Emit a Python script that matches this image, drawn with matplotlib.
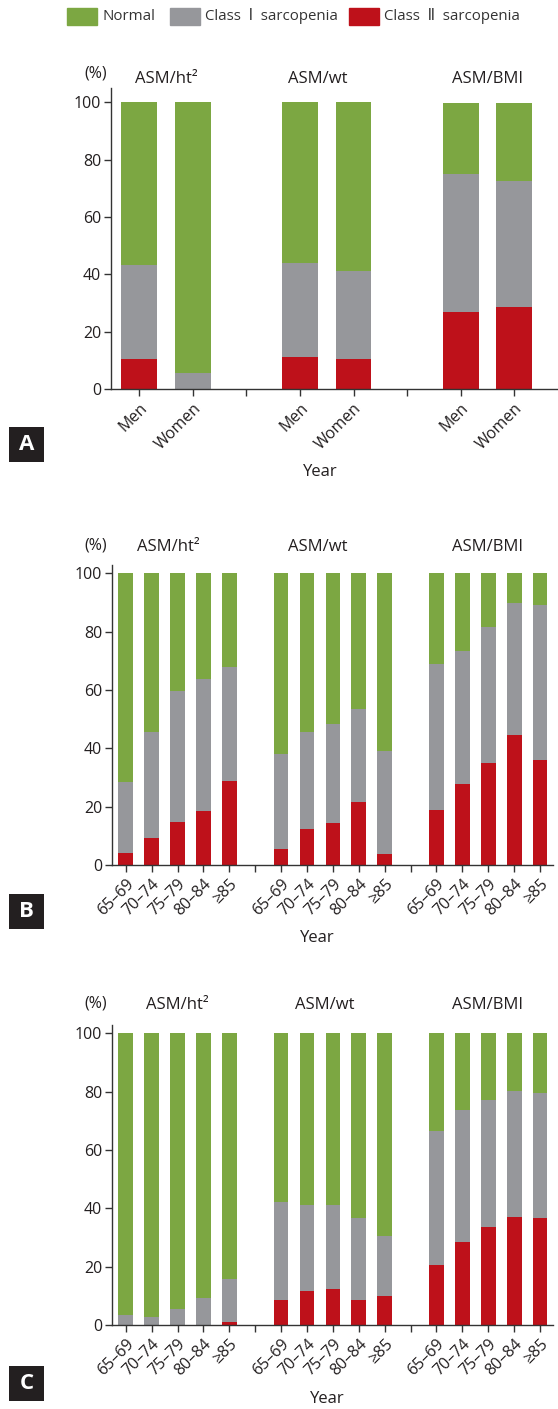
import numpy as np
import matplotlib
matplotlib.use("Agg")
import matplotlib.pyplot as plt
from matplotlib.patches import Rectangle

plt.rcParams['font.family'] = ['Open Sans', 'DejaVu Sans']

# colores
GREEN = '#7ca742'
GREY = '#96979b'
RED = '#be111a'
TXT = '#231f20'

indices = ['ASM/ht\u00b2', 'ASM/wt', 'ASM/BMI']
sexes = ['Men', 'Women']
ages = ['65\u201369', '70\u201374', '75\u201379', '80\u201384', '\u226585']

# Panel A (por sexo), orden: ht2, wt, BMI
a_class2 = [10.3, 0.0, 11.1, 10.6, 27.0, 28.6]
a_class1 = [32.9, 5.5, 32.8, 30.5, 47.9, 43.9]   # tope gris - rojo
a_total = [100, 100, 100, 100, 99.8, 99.8]

# Panel B (hombres por edad)
b_class2 = [4.2, 9.4, 14.7, 18.5, 28.8,
            5.5, 12.3, 14.4, 21.6, 3.9,
            19.0, 27.8, 35.0, 44.6, 36.0]
b_top1 = [28.6, 45.7, 59.5, 63.8, 67.9,
          38.2, 45.7, 48.3, 53.5, 39.1,
          68.9, 73.4, 81.6, 89.8, 89.1]
b_total = [100] * 15

# Panel C (mujeres por edad)
c_class2 = [0.0, 0.0, 0.0, 0.0, 1.0,
            8.6, 11.7, 12.3, 8.6, 9.9,
            20.6, 28.5, 33.6, 37.0, 36.7]
c_top1 = [3.4, 2.7, 5.5, 9.4, 15.8,
          42.3, 41.1, 41.1, 36.8, 30.5,
          66.5, 73.7, 77.1, 80.2, 79.5]
c_total = [100] * 15

W, H = 558, 1409
fig = plt.figure(figsize=(W / 100, H / 100), dpi=100)


def px_axes(x0, x1, ytop, ybot):
    return fig.add_axes([x0 / W, 1 - ybot / H, (x1 - x0) / W, (ybot - ytop) / H])


def panel(ax, labels, ngroup, red, grey_top, total, width, ymax, xr):
    pos = []
    ticks = []
    ticklabels = []
    p = 0
    for g in range(3):
        for i in range(ngroup):
            pos.append(p)
            ticks.append(p)
            ticklabels.append(labels[i])
            p += 1
        if g < 2:
            ticks.append(p)
            ticklabels.append('')
            p += 1
    pos = np.array(pos)
    red = np.array(red)
    grey_top = np.array(grey_top)
    total = np.array(total)
    ax.bar(pos, red, width, color=RED, linewidth=0)
    ax.bar(pos, grey_top - red, width, bottom=red, color=GREY, linewidth=0)
    ax.bar(pos, total - grey_top, width, bottom=grey_top, color=GREEN, linewidth=0)
    ax.set_xlim(-0.53, xr)
    ax.set_ylim(0, ymax)
    ax.set_yticks([0, 20, 40, 60, 80, 100])
    ax.set_xticks(ticks)
    ax.set_xticklabels(ticklabels, rotation=45, ha='right', va='top',
                       rotation_mode='anchor', fontsize=11.5, color=TXT)
    for s in ['top', 'right']:
        ax.spines[s].set_visible(False)
    for s in ['left', 'bottom']:
        ax.spines[s].set_color('#333333')
        ax.spines[s].set_linewidth(1.0)
    ax.tick_params(axis='both', direction='out', length=5, width=1,
                   color='#333333', labelcolor=TXT, labelsize=11.5)
    ax.tick_params(axis='y', pad=2)
    ax.tick_params(axis='x', pad=3)
    return pos


def letter(ch, ytop):
    bx = fig.add_axes([9 / W, 1 - (ytop + 35) / H, 35 / W, 35 / H])
    bx.set_facecolor('#231f20')
    bx.set_xticks([])
    bx.set_yticks([])
    for s in bx.spines.values():
        s.set_visible(False)
    bx.text(0.5, 0.5, ch, color='white', fontsize=16, fontweight='bold',
            ha='center', va='center', transform=bx.transAxes)


# Panel A
axA = px_axes(111, 557, 88, 389)
panel(axA, sexes, 2, a_class2, np.array(a_class2) + np.array(a_class1), a_total,
      0.67, 105, 7.8)
for t, x in zip(indices, [166, 318, 488]):
    fig.text(x / W, 1 - 79 / H, t, ha='center', va='center', fontsize=12, color=TXT)
fig.text(96 / W, 1 - 73 / H, '(%)', ha='center', va='center', fontsize=11.5, color=TXT)
fig.text(320 / W, 1 - 472 / H, 'Year', ha='center', va='center', fontsize=12, color=TXT)
letter('A', 427)

# Panel B
axB = px_axes(112, 553, 565, 865)
panel(axB, ages, 5, b_class2, b_top1, b_total, 0.57, 102.8, 16.5)
for t, x in zip(indices, [168, 318, 488]):
    fig.text(x / W, 1 - 547 / H, t, ha='center', va='center', fontsize=12, color=TXT)
fig.text(96 / W, 1 - 545 / H, '(%)', ha='center', va='center', fontsize=11.5, color=TXT)
fig.text(317 / W, 1 - 938 / H, 'Year', ha='center', va='center', fontsize=12, color=TXT)
letter('B', 894)

# Panel C
axC = px_axes(112, 553, 1025, 1325)
panel(axC, ages, 5, c_class2, c_top1, c_total, 0.57, 102.8, 16.5)
for t, x in zip(indices, [177, 325, 488]):
    fig.text(x / W, 1 - 1005 / H, t, ha='center', va='center', fontsize=12, color=TXT)
fig.text(96 / W, 1 - 1003 / H, '(%)', ha='center', va='center', fontsize=11.5, color=TXT)
fig.text(327 / W, 1 - 1399 / H, 'Year', ha='center', va='center', fontsize=12, color=TXT)
letter('C', 1366)

# leyenda arriba
leg_items = [('Normal', GREEN, 67), ('Class  \u2160  sarcopenia', GREY, 170),
             ('Class  \u2161  sarcopenia', RED, 349)]
for lab, col, x in leg_items:
    fig.patches.append(Rectangle((x / W, 1 - 25 / H), 30 / W, 17 / H,
                                 transform=fig.transFigure, color=col, figure=fig))
    fig.text((x + 35) / W, 1 - 16 / H, lab, ha='left', va='center', fontsize=10.8,
             color='#333333')

fig.savefig('out.png', dpi=100, facecolor='white')
